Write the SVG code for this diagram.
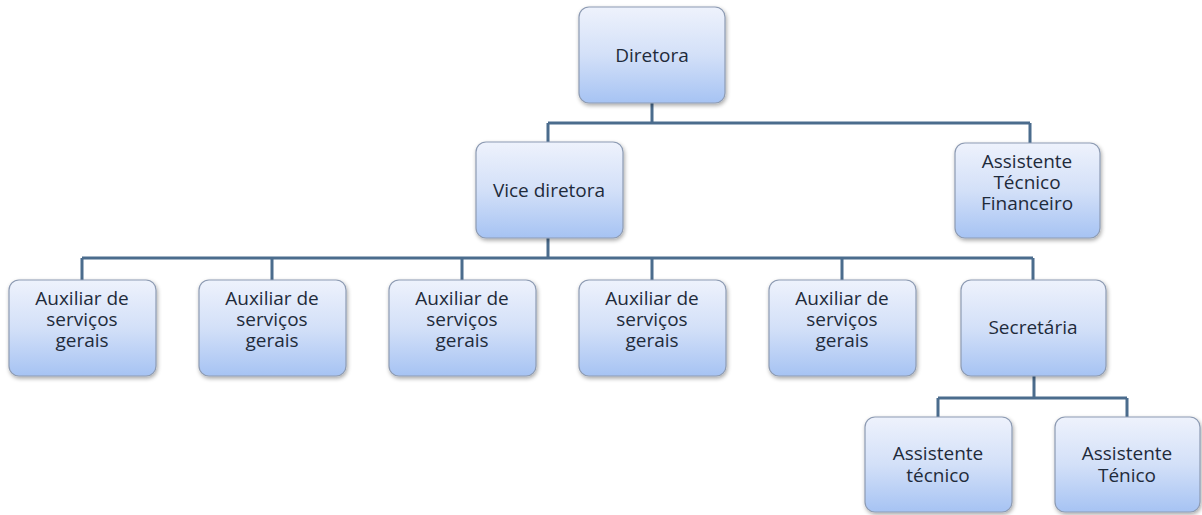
<svg xmlns="http://www.w3.org/2000/svg" width="1202" height="515" viewBox="0 0 1202 515">
<defs>
<linearGradient id="g" x1="0" y1="0" x2="0" y2="1">
<stop offset="0" stop-color="#eef2fc"/>
<stop offset="0.5" stop-color="#d3e0f8"/>
<stop offset="1" stop-color="#a6c3f3"/>
</linearGradient>
<filter id="sh" x="-10%" y="-10%" width="125%" height="130%">
<feGaussianBlur in="SourceAlpha" stdDeviation="2"/>
<feOffset dx="1" dy="2" result="b"/>
<feComponentTransfer><feFuncA type="linear" slope="0.35"/></feComponentTransfer>
<feMerge><feMergeNode/><feMergeNode in="SourceGraphic"/></feMerge>
</filter>
</defs>
<style>
.box{fill:url(#g);stroke:#8d9bb3;stroke-width:1.2;filter:url(#sh)}
.t{font-family:"Open Sans","Liberation Sans",sans-serif;font-size:19px;fill:#1f2b3b;text-anchor:middle}
.c{fill:none;stroke:#4b6c8d;stroke-width:3}
</style>
<rect width="1202" height="515" fill="#ffffff"/>
<g id="connectors">
<path class="c" d="M652 103V123M548 123H1030M548 123V142M1030 123V143"/>
<path class="c" d="M548 238V258M82 258H1033M82 258V280M272 258V280M462 258V280M652 258V280M842 258V280M1033 258V280"/>
<path class="c" d="M1034 376V398M938 398H1127M938 398V417M1127 398V417"/>
</g>
<g id="diretora"><rect class="box" x="579" y="7" width="146" height="96" rx="10"/><text class="t" x="652" y="62">Diretora</text></g>
<g id="vice"><rect class="box" x="476" y="142" width="147" height="96" rx="10"/><text class="t" x="549" y="197">Vice diretora</text></g>
<g id="atf"><rect class="box" x="955" y="143" width="145" height="95" rx="10"/><text class="t" x="1027" y="168">Assistente</text><text class="t" x="1027" y="189">Técnico</text><text class="t" x="1027" y="210">Financeiro</text></g>
<g id="aux1"><rect class="box" x="9" y="280" width="147" height="96" rx="10"/><text class="t" x="82" y="305">Auxiliar de</text><text class="t" x="82" y="326">serviços</text><text class="t" x="82" y="347">gerais</text></g>
<g id="aux2"><rect class="box" x="199" y="280" width="147" height="96" rx="10"/><text class="t" x="272" y="305">Auxiliar de</text><text class="t" x="272" y="326">serviços</text><text class="t" x="272" y="347">gerais</text></g>
<g id="aux3"><rect class="box" x="389" y="280" width="147" height="96" rx="10"/><text class="t" x="462" y="305">Auxiliar de</text><text class="t" x="462" y="326">serviços</text><text class="t" x="462" y="347">gerais</text></g>
<g id="aux4"><rect class="box" x="579" y="280" width="147" height="96" rx="10"/><text class="t" x="652" y="305">Auxiliar de</text><text class="t" x="652" y="326">serviços</text><text class="t" x="652" y="347">gerais</text></g>
<g id="aux5"><rect class="box" x="769" y="280" width="147" height="96" rx="10"/><text class="t" x="842" y="305">Auxiliar de</text><text class="t" x="842" y="326">serviços</text><text class="t" x="842" y="347">gerais</text></g>
<g id="secretaria"><rect class="box" x="961" y="280" width="145" height="96" rx="10"/><text class="t" x="1033" y="334">Secretária</text></g>
<g id="at1"><rect class="box" x="865" y="417" width="147" height="95" rx="10"/><text class="t" x="938" y="460">Assistente</text><text class="t" x="938" y="482">técnico</text></g>
<g id="at2"><rect class="box" x="1055" y="417" width="145" height="95" rx="10"/><text class="t" x="1127" y="460">Assistente</text><text class="t" x="1127" y="482">Ténico</text></g>
</svg>
